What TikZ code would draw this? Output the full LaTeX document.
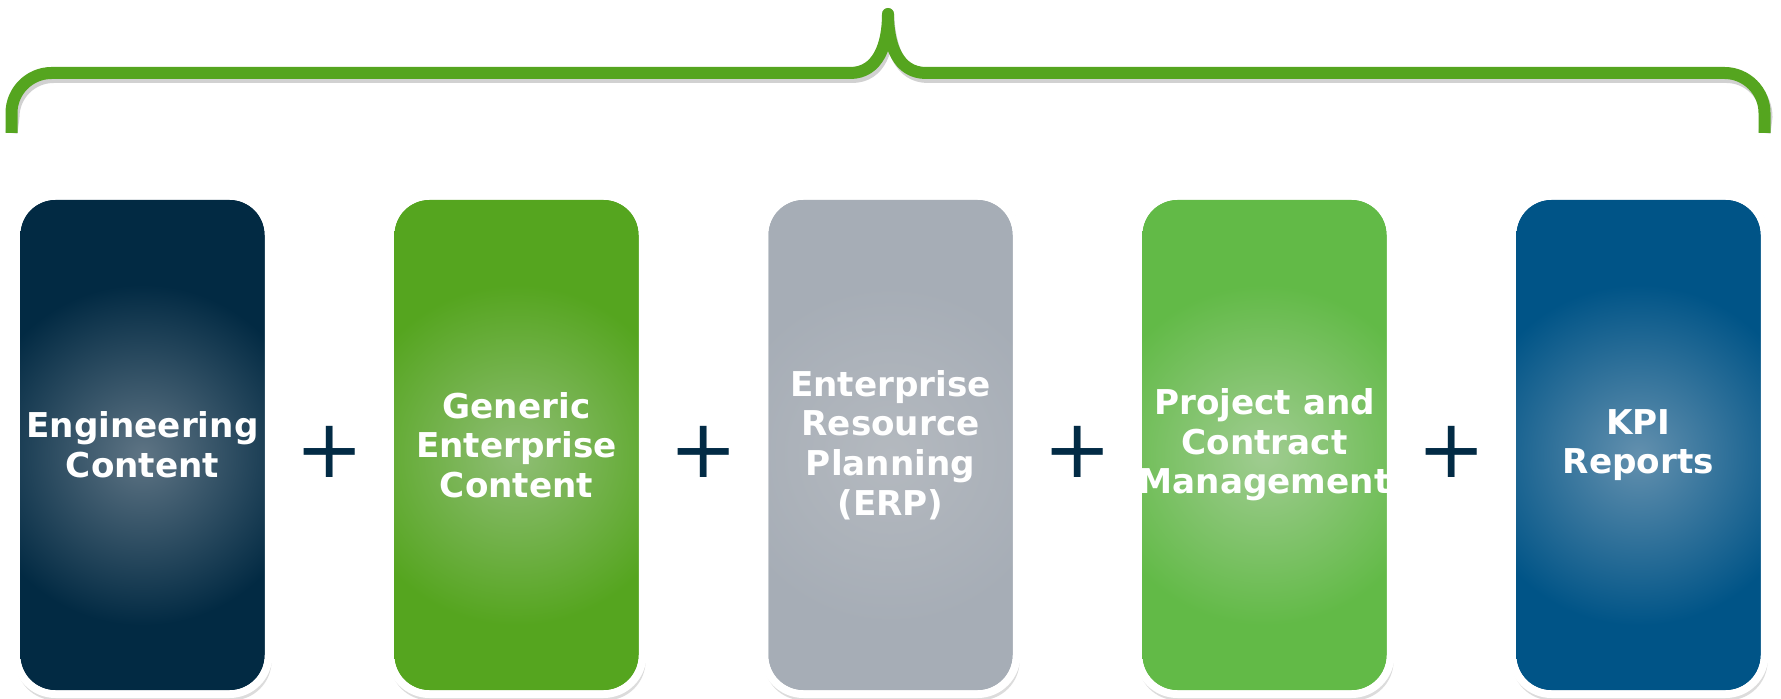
\documentclass[tikz,border=0pt]{standalone}
\usepackage{fontspec}
\newfontfamily\cardfont{DejaVu Sans}
\usetikzlibrary{shadows}
\definecolor{braceGreen}{HTML}{55A51F}
\definecolor{navy}{HTML}{022B45}
\definecolor{cAo}{HTML}{022A43}\definecolor{cAi}{HTML}{5E7484}
\definecolor{cBo}{HTML}{55A51F}\definecolor{cBi}{HTML}{8FBE75}
\definecolor{cCo}{HTML}{A6ADB6}\definecolor{cCi}{HTML}{B4B9BF}
\definecolor{cDo}{HTML}{62BA47}\definecolor{cDi}{HTML}{A0CC91}
\definecolor{cEo}{HTML}{005487}\definecolor{cEi}{HTML}{6390AE}
\pgfdeclareradialshading{glowA}{\pgfpoint{0bp}{0bp}}{color(0bp)=(cAi); color(16.7bp)=(cAo); color(100bp)=(cAo)}
\pgfdeclareradialshading{glowB}{\pgfpoint{0bp}{0bp}}{color(0bp)=(cBi); color(16.7bp)=(cBo); color(100bp)=(cBo)}
\pgfdeclareradialshading{glowC}{\pgfpoint{0bp}{0bp}}{color(0bp)=(cCi); color(16.7bp)=(cCo); color(100bp)=(cCo)}
\pgfdeclareradialshading{glowD}{\pgfpoint{0bp}{0bp}}{color(0bp)=(cDi); color(16.7bp)=(cDo); color(100bp)=(cDo)}
\pgfdeclareradialshading{glowE}{\pgfpoint{0bp}{0bp}}{color(0bp)=(cEi); color(16.7bp)=(cEo); color(100bp)=(cEo)}
\tikzset{
  card/.style={rounded corners=19.5pt, minimum width=126pt, minimum height=249pt,
    inner sep=0pt, fill=#1, draw=white, line width=4pt,
    drop shadow={shadow xshift=0.6pt, shadow yshift=-1.3pt, shadow scale=1.015, opacity=0.27}},
  label/.style={inner sep=0pt, text=white, align=center,
    font=\cardfont\bfseries\fontsize{17.1}{19.8}\selectfont},
  plus/.style={inner sep=0pt, text=navy, font=\cardfont\fontsize{40.8}{40.8}\selectfont},
  bracestyle/.style={draw=braceGreen, line width=6pt, line cap=butt, line join=round},
  braceshadow/.style={draw=black, opacity=0.18, line width=6pt, line cap=butt, line join=round}
}
\newcommand\glowcard[5]{% name, x, outer colour, shading, text
  \node[card=#3] (#1) at (#2,445) {};
  \begin{scope}
    \clip[rounded corners=17.5pt] (#2-122,200) rectangle (#2+122,690);
    \shade[shading=#4] (#2-255,200) rectangle (#2+255,710);
  \end{scope}
  \node[label] (#1t) at (#1.center) {#5};
}
\begin{document}
\begin{tikzpicture}[x=0.5pt,y=-0.5pt]
\useasboundingbox[fill=white] (0,0) rectangle (1781,699);
% brace
\coordinate (bl) at (11.5,133);
\coordinate (br) at (1764.5,133);
\coordinate (peak) at (888,14);
\draw[braceshadow, xshift=1pt, yshift=-2pt]
  (bl) -- (11.5,113) .. controls (11.5,91) and (29.5,73) .. (51.5,73) -- (850,73)
  .. controls (878,73) and (888,45) .. (peak)
  .. controls (888,45) and (898,73) .. (926,73) -- (1724.5,73)
  .. controls (1746.5,73) and (1764.5,91) .. (1764.5,113) -- (br);
\draw[bracestyle]
  (bl) -- (11.5,113) .. controls (11.5,91) and (29.5,73) .. (51.5,73) -- (850,73)
  .. controls (878,73) and (888,45) .. (peak)
  .. controls (888,45) and (898,73) .. (926,73) -- (1724.5,73)
  .. controls (1746.5,73) and (1764.5,91) .. (1764.5,113) -- (br);
% cards
\glowcard{c1}{142.5}{cAo}{glowA}{Engineering\\Content}
\glowcard{c2}{516.5}{cBo}{glowB}{Generic\\Enterprise\\Content}
\glowcard{c3}{890.5}{cCo}{glowC}{Enterprise\\Resource\\Planning\\(ERP)}
\glowcard{c4}{1264.5}{cDo}{glowD}{Project and\\Contract\\Management}
\glowcard{c5}{1638.5}{cEo}{glowE}{KPI\\Reports}
% plus signs
\node[plus] (p1) at (329.5,452) {+};
\node[plus] (p2) at (703.5,452) {+};
\node[plus] (p3) at (1077.5,452) {+};
\node[plus] (p4) at (1451.5,452) {+};
\end{tikzpicture}
\end{document}
